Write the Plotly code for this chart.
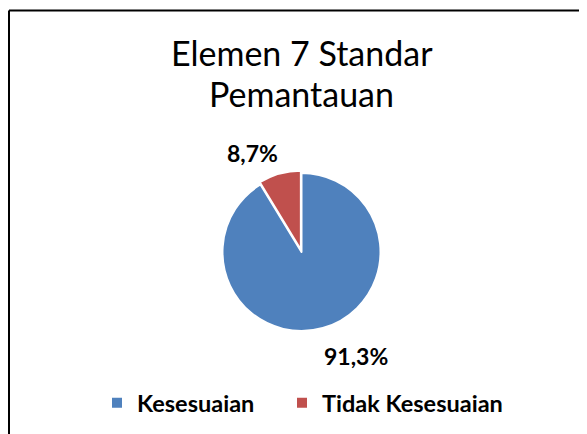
import plotly.graph_objects as go

title_lines = ["Elemen 7 Standar", "Pemantauan"]
categories = ["Kesesuaian", "Tidak Kesesuaian"]
values = [91.3, 8.7]
colors = ["#4F81BD", "#C0504D"]

W, H = 587, 434
OFF = 8  # page body margin
cx, cy, r = 301.5 - OFF, 252 - OFF, 79
pulls = [0, 0.03]
R = r * (1 + max(pulls))

def px(x):
    return x / W

def py(y):
    return 1 - y / H

fig = go.Figure(go.Pie(
    labels=categories,
    values=values,
    marker=dict(colors=colors, line=dict(color="white", width=2)),
    sort=False,
    direction="clockwise",
    rotation=0,
    pull=pulls,
    textinfo="none",
    hoverinfo="label+percent",
    domain=dict(x=[px(cx - R), px(cx + R)], y=[py(cy + R), py(cy - R)]),
))

def fmt(v):
    return f"{v:.1f}".replace(".", ",") + "%"

label_pos = [(355.5 - OFF, 356 - OFF), (252.5 - OFF, 153 - OFF)]
for v, (lx, ly) in zip(values, label_pos):
    fig.add_annotation(x=px(lx), y=py(ly), xref="paper", yref="paper",
                       text="<b>" + fmt(v) + "</b>", showarrow=False,
                       font=dict(family="Lato", size=23, color="black"),
                       xanchor="center", yanchor="middle")

for line, ty in zip(title_lines, [53 - OFF, 93 - OFF]):
    fig.add_annotation(x=px(cx), y=py(ty), xref="paper", yref="paper",
                       text=line, showarrow=False,
                       font=dict(family="Lato", size=34, color="black"),
                       xanchor="center", yanchor="middle")

fig.add_shape(type="line", xref="paper", yref="paper",
              x0=px(1), y0=py(10.5 - OFF), x1=px(W), y1=py(10.5 - OFF),
              line=dict(color="black", width=2))
fig.add_shape(type="line", xref="paper", yref="paper",
              x0=px(1), y0=py(10.5 - OFF), x1=px(1), y1=py(H),
              line=dict(color="black", width=2))

fig.update_layout(
    width=W, height=H,
    margin=dict(l=0, r=0, t=0, b=0),
    paper_bgcolor="white",
    plot_bgcolor="white",
    showlegend=True,
    legend=dict(orientation="h", x=px(97 - OFF), xanchor="left", y=py(403 - OFF), yanchor="middle",
                font=dict(family="Lato", size=23.5, color="black", weight="bold"),
                bgcolor="rgba(0,0,0,0)",
                traceorder="normal", entrywidth=140, entrywidthmode="pixels"),
)

# let the last legend entry extend past the fixed entry width
post = """
var gd = document.getElementById('{plot_id}');
function unclip() {
  gd.querySelectorAll('.legend .scrollbox, .legend [clip-path]').forEach(function(e) {
    e.removeAttribute('clip-path');
  });
}
unclip();
gd.on('plotly_afterplot', unclip);
"""

fig.write_html("out.html", post_script=post)
